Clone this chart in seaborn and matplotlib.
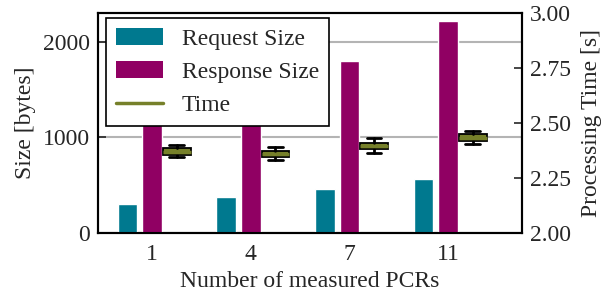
import matplotlib
matplotlib.use("Agg")
import matplotlib.pyplot as plt
from matplotlib.patches import Patch
from matplotlib.lines import Line2D
import numpy as np
import pandas as pd
import seaborn as sns

# ---- data ----
pcrs = ["1", "4", "7", "11"]
request_size = [305, 380, 455, 560]
response_size = [1168, 1480, 1794, 2217]
time_whislo = [2.344, 2.330, 2.364, 2.405]
time_q1 = [2.356, 2.344, 2.380, 2.418]
time_med = [2.370, 2.359, 2.396, 2.434]
time_q3 = [2.385, 2.373, 2.410, 2.449]
time_whishi = [2.402, 2.391, 2.430, 2.464]
series = ["Request Size", "Response Size", "Time"]
left_ticks = [0, 1000, 2000]
right_ticks = [2.00, 2.25, 2.50, 2.75, 3.00]

TEAL = "#00798F"
PURPLE = "#900063"
OLIVE = "#76802A"

sns.set_style("ticks")
plt.rcParams["font.family"] = ["Liberation Serif", "DejaVu Serif"]
plt.rcParams["font.size"] = 17

df = pd.DataFrame({
    "pcr": pcrs * 2,
    "series": [series[0]] * len(pcrs) + [series[1]] * len(pcrs),
    "value": request_size + response_size,
})

fig = plt.figure(figsize=(6.05, 2.97), dpi=100)
ax = fig.add_axes([98 / 605, 1 - 233 / 297, (522 - 98) / 605, (233 - 13) / 297])

sns.barplot(data=df, x="pcr", y="value", hue="series", order=pcrs,
            hue_order=series, palette={series[0]: TEAL, series[1]: PURPLE, series[2]: OLIVE},
            width=0.75, gap=0.2, saturation=1, legend=False, ax=ax, zorder=3)

ax.set_ylim(0, 2300)
ax.set_yticks(left_ticks)
ax.set_xlabel("Number of measured PCRs", fontsize=17)
ax.set_ylabel("Size [bytes]", fontsize=17, labelpad=5)
ax.yaxis.grid(True, color="#b4b4b4", linewidth=1.5, zorder=0)
ax.set_axisbelow(True)
ax.tick_params(axis="y", direction="in", length=6, width=1.2, labelsize=17, pad=5.5)
ax.tick_params(axis="x", length=0, labelsize=17, pad=8)
for s in ax.spines.values():
    s.set_visible(True)
    s.set_color("black")
    s.set_linewidth(1.5)

ax2 = ax.twinx()
stats = []
for i in range(len(pcrs)):
    stats.append({"med": time_med[i], "q1": time_q1[i], "q3": time_q3[i],
                  "whislo": time_whislo[i], "whishi": time_whishi[i], "fliers": []})
pos = np.arange(len(pcrs)) + 0.25
ax2.bxp(stats, positions=pos, widths=0.28, capwidths=0.15, patch_artist=True,
        showfliers=False, manage_ticks=False,
        boxprops=dict(facecolor=OLIVE, edgecolor="black", linewidth=1.3),
        medianprops=dict(color=OLIVE, linewidth=2.5),
        whiskerprops=dict(color="black", linewidth=2),
        capprops=dict(color="black", linewidth=2))
ax2.set_ylim(2.0, 3.0)
ax2.set_yticks(right_ticks)
ax2.set_yticklabels([f"{t:.2f}" for t in right_ticks])
ax2.set_ylabel("Processing Time [s]", fontsize=17, labelpad=7)
ax2.tick_params(axis="y", direction="in", length=6, width=1.2, labelsize=17, pad=6)
ax.set_xlim(-0.55, 3.75)
for s in ax2.spines.values():
    s.set_color("black")
    s.set_linewidth(1.5)

handles = [Patch(facecolor=TEAL, edgecolor="none"),
           Patch(facecolor=PURPLE, edgecolor="none"),
           Line2D([0], [0], color=OLIVE, linewidth=2.5)]
leg = ax2.legend(handles, series, loc="upper left", bbox_to_anchor=(0.018, 0.977),
                 borderaxespad=0, fancybox=False, framealpha=1, edgecolor="black",
                 fontsize=17, handlelength=2.0, handleheight=0.7, handletextpad=0.8,
                 borderpad=0.42, labelspacing=0.5)
leg.get_frame().set_linewidth(1.2)
leg.set_zorder(10)

fig.savefig("out.png", dpi=100)
